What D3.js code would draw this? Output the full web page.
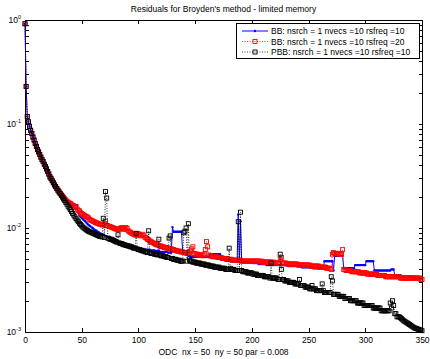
<!DOCTYPE html>
<html>
<head>
<meta charset="utf-8">
<style>
  body { margin: 0; background: #fff; }
  text { font-family: "Liberation Sans", Helvetica, Arial, sans-serif; }
</style>
</head>
<body>
<svg id="chart" width="430" height="359"></svg>

<script src="https://d3js.org/d3.v7.min.js"></script>
<script>
// Residual norms, one value per iteration (0..350)
const bb10 = [
  0.92, 0.23, 0.118, 0.105, 0.095, 0.087, 0.081, 0.075, 0.070, 0.065,
  0.061, 0.057, 0.054, 0.051, 0.048, 0.0455, 0.0435, 0.041, 0.039, 0.037,
  0.035, 0.033, 0.031, 0.0298, 0.0285, 0.0272, 0.026, 0.025, 0.024, 0.0231,
  0.0223, 0.0215, 0.0208, 0.0201, 0.0195, 0.0189, 0.0184, 0.0179, 0.0175, 0.0171,
  0.0168, 0.0165, 0.0167, 0.0168, 0.0168, 0.0167, 0.0166, 0.0140, 0.0132, 0.0128,
  0.0125, 0.0122, 0.0119, 0.0116, 0.0113, 0.0110, 0.0107, 0.0105, 0.0103, 0.0101,
  0.0099, 0.0097, 0.0095, 0.0094, 0.0092, 0.0091, 0.0089, 0.0088, 0.0087, 0.0086,
  0.0085, 0.0084, 0.0083, 0.0082, 0.0081, 0.0080, 0.0079, 0.0078, 0.0077, 0.0076,
  0.0076, 0.0075, 0.0074, 0.0073, 0.0073, 0.0072, 0.0071, 0.0070, 0.0070, 0.0069,
  0.0069, 0.0068, 0.0068, 0.0067, 0.0067, 0.0066, 0.0066, 0.0065, 0.0065, 0.0064,
  0.0064, 0.0064, 0.0063, 0.0063, 0.0063, 0.0062, 0.0062, 0.0062, 0.0062, 0.0062,
  0.0062, 0.0061, 0.0061, 0.0061, 0.0061, 0.0060, 0.0060, 0.0060, 0.0060, 0.0059,
  0.0059, 0.0059, 0.0059, 0.0059, 0.0059, 0.0059, 0.0058, 0.0058, 0.0058, 0.0058,
  0.0102, 0.0092, 0.0092, 0.0092, 0.0092, 0.0092, 0.0092, 0.0092, 0.0092, 0.0058,
  0.0057, 0.0056, 0.0056, 0.0055, 0.0054, 0.0054, 0.0053, 0.0053, 0.0053, 0.0053,
  0.0053, 0.0053, 0.0053, 0.0053, 0.0053, 0.0053, 0.0053, 0.0053, 0.0053, 0.0053,
  0.0053, 0.0053, 0.0053, 0.0056, 0.0056, 0.0056, 0.0056, 0.0056, 0.0056, 0.0056,
  0.0056, 0.0056, 0.0056, 0.0050, 0.0050, 0.0050, 0.0049, 0.0049, 0.0049, 0.0049,
  0.0049, 0.0049, 0.0048, 0.0048, 0.0048, 0.0048, 0.0048, 0.0048, 0.0135, 0.0048,
  0.0116, 0.0048, 0.0047, 0.0047, 0.0047, 0.0047, 0.0047, 0.0047, 0.0047, 0.0047,
  0.0047, 0.0046, 0.0046, 0.0046, 0.0046, 0.0046, 0.0045, 0.0045, 0.0045, 0.0045,
  0.0045, 0.0045, 0.0045, 0.0044, 0.0044, 0.0044, 0.0044, 0.0044, 0.0044, 0.0044,
  0.0044, 0.0044, 0.0044, 0.0044, 0.0044, 0.0044, 0.0044, 0.0044, 0.0044, 0.0044,
  0.0044, 0.0044, 0.0043, 0.0043, 0.0043, 0.0043, 0.0043, 0.0043, 0.0043, 0.0043,
  0.0043, 0.0043, 0.0043, 0.0043, 0.0042, 0.0042, 0.0042, 0.0042, 0.0042, 0.0042,
  0.0042, 0.0042, 0.0042, 0.0042, 0.0041, 0.0041, 0.0041, 0.0041, 0.0041, 0.0041,
  0.0041, 0.0041, 0.0041, 0.0041, 0.0048, 0.0048, 0.0048, 0.0048, 0.0048, 0.0048,
  0.0048, 0.0048, 0.0039, 0.0054, 0.0054, 0.0054, 0.0054, 0.0054, 0.0054, 0.0054,
  0.0054, 0.0041, 0.0041, 0.0041, 0.0041, 0.0041, 0.0041, 0.0041, 0.0041, 0.0041,
  0.0041, 0.0044, 0.0044, 0.0044, 0.0044, 0.0044, 0.0044, 0.0044, 0.0044, 0.0044,
  0.0044, 0.0048, 0.0048, 0.0048, 0.0048, 0.0048, 0.0048, 0.0048, 0.0039, 0.0039,
  0.0039, 0.0039, 0.0039, 0.0039, 0.0039, 0.0039, 0.0039, 0.0039, 0.0039, 0.0039,
  0.0039, 0.0039, 0.0039, 0.0040, 0.0040, 0.0040, 0.0035, 0.0035, 0.0035, 0.0035,
  0.0035, 0.0035, 0.0034, 0.0034, 0.0034, 0.0034, 0.0034, 0.0034, 0.0034, 0.0034,
  0.0034, 0.0034, 0.0034, 0.0034, 0.0033, 0.0033, 0.0033, 0.0033, 0.0033, 0.0033,
  0.0033
];

const bb20 = [
  0.92, 0.23, 0.118, 0.105, 0.095, 0.087, 0.081, 0.075, 0.070, 0.065,
  0.061, 0.057, 0.054, 0.051, 0.048, 0.0455, 0.0435, 0.041, 0.039, 0.037,
  0.035, 0.033, 0.031, 0.0298, 0.0285, 0.0272, 0.026, 0.025, 0.024, 0.0231,
  0.0223, 0.0216, 0.0209, 0.0203, 0.0197, 0.0191, 0.0186, 0.0181, 0.0177, 0.0174,
  0.0172, 0.0168, 0.0165, 0.0161, 0.0158, 0.0160, 0.0152, 0.0148, 0.0146, 0.0140,
  0.0138, 0.0135, 0.0133, 0.0131, 0.0129, 0.0127, 0.0125, 0.0121, 0.0119, 0.0118,
  0.0116, 0.0115, 0.0113, 0.0112, 0.0111, 0.0110, 0.0109, 0.0108, 0.0107, 0.0107,
  0.0110, 0.0116, 0.0106, 0.0105, 0.0104, 0.0103, 0.0102, 0.0101, 0.0100, 0.0099,
  0.0098, 0.0097, 0.0097, 0.0096, 0.0099, 0.0101, 0.0100, 0.0098, 0.0097, 0.0101,
  0.0099, 0.0094, 0.0092, 0.0091, 0.0089, 0.0088, 0.0087, 0.0086, 0.0085, 0.0087,
  0.0088, 0.0086, 0.0084, 0.0085, 0.0087, 0.0084, 0.0081, 0.0080, 0.0078, 0.0077,
  0.0075, 0.0074, 0.0073, 0.0072, 0.0071, 0.0070, 0.0069, 0.0069, 0.0068, 0.0067,
  0.0067, 0.0066, 0.0066, 0.0065, 0.0065, 0.0064, 0.0064, 0.0064, 0.0063, 0.0063,
  0.0062, 0.0062, 0.0061, 0.0061, 0.0060, 0.0060, 0.0060, 0.0059, 0.0059, 0.0059,
  0.0058, 0.0058, 0.0058, 0.0057, 0.0057, 0.0057, 0.0060, 0.0063, 0.0066, 0.0057,
  0.0056, 0.0056, 0.0056, 0.0055, 0.0055, 0.0055, 0.0055, 0.0054, 0.0056, 0.0062,
  0.0074, 0.0066, 0.0055, 0.0054, 0.0054, 0.0053, 0.0053, 0.0053, 0.0053, 0.0053,
  0.0052, 0.0052, 0.0052, 0.0052, 0.0051, 0.0051, 0.0051, 0.0051, 0.0050, 0.0050,
  0.0050, 0.0050, 0.0050, 0.0049, 0.0049, 0.0049, 0.0049, 0.0049, 0.0049, 0.0049,
  0.0049, 0.0048, 0.0048, 0.0048, 0.0048, 0.0048, 0.0048, 0.0048, 0.0048, 0.0048,
  0.0048, 0.0048, 0.0048, 0.0048, 0.0048, 0.0048, 0.0048, 0.0048, 0.0047, 0.0048,
  0.0047, 0.0047, 0.0047, 0.0047, 0.0047, 0.0047, 0.0047, 0.0047, 0.0046, 0.0047,
  0.0046, 0.0046, 0.0046, 0.0046, 0.0046, 0.0050, 0.0052, 0.0046, 0.0046, 0.0046,
  0.0046, 0.0045, 0.0045, 0.0045, 0.0045, 0.0045, 0.0045, 0.0045, 0.0045, 0.0045,
  0.0045, 0.0044, 0.0044, 0.0044, 0.0044, 0.0044, 0.0044, 0.0044, 0.0044, 0.0044,
  0.0044, 0.0044, 0.0043, 0.0043, 0.0043, 0.0043, 0.0043, 0.0043, 0.0043, 0.0043,
  0.0042, 0.0042, 0.0042, 0.0042, 0.0042, 0.0042, 0.0041, 0.0041, 0.0041, 0.0041,
  0.0040, 0.0056, 0.0058, 0.0057, 0.0057, 0.0057, 0.0057, 0.0056, 0.0056, 0.0056,
  0.0062, 0.0040, 0.0040, 0.0039, 0.0039, 0.0039, 0.0039, 0.0039, 0.0038, 0.0038,
  0.0038, 0.0038, 0.0038, 0.0038, 0.0038, 0.0037, 0.0037, 0.0037, 0.0037, 0.0037,
  0.0037, 0.0037, 0.0036, 0.0036, 0.0036, 0.0036, 0.0036, 0.0036, 0.0036, 0.0036,
  0.0036, 0.0035, 0.0035, 0.0035, 0.0035, 0.0035, 0.0035, 0.0035, 0.0034, 0.0034,
  0.0034, 0.0034, 0.0034, 0.0034, 0.0034, 0.0034, 0.0034, 0.0034, 0.0034, 0.0034,
  0.0034, 0.0033, 0.0033, 0.0033, 0.0033, 0.0033, 0.0033, 0.0033, 0.0033, 0.0033,
  0.0033, 0.0033, 0.0033, 0.0033, 0.0033, 0.0033, 0.0033, 0.0033, 0.0033, 0.0032,
  0.0032
];

const pbb10 = [
  0.92, 0.23, 0.118, 0.105, 0.095, 0.087, 0.081, 0.075, 0.070, 0.065,
  0.061, 0.057, 0.054, 0.051, 0.048, 0.0455, 0.0435, 0.041, 0.039, 0.037,
  0.035, 0.033, 0.031, 0.0298, 0.0285, 0.0272, 0.026, 0.025, 0.024, 0.0231,
  0.0222, 0.0214, 0.0206, 0.0198, 0.0190, 0.0183, 0.0176, 0.0169, 0.0162, 0.0156,
  0.0150, 0.0144, 0.0138, 0.0133, 0.0128, 0.0123, 0.0119, 0.0115, 0.0111, 0.0108,
  0.0105, 0.0102, 0.0100, 0.0098, 0.0096, 0.0095, 0.0093, 0.0092, 0.0091, 0.0090,
  0.0089, 0.0088, 0.0087, 0.0086, 0.0085, 0.0084, 0.0083, 0.0083, 0.0082, 0.0124,
  0.0081, 0.0224, 0.0194, 0.0080, 0.0079, 0.0078, 0.0078, 0.0077, 0.0076, 0.0075,
  0.0074, 0.0073, 0.0086, 0.0072, 0.0071, 0.0071, 0.0070, 0.0069, 0.0069, 0.0068,
  0.0068, 0.0067, 0.0067, 0.0066, 0.0066, 0.0065, 0.0064, 0.0064, 0.0089, 0.0063,
  0.0062, 0.0062, 0.0061, 0.0061, 0.0060, 0.0060, 0.0059, 0.0059, 0.0058, 0.0094,
  0.0058, 0.0057, 0.0057, 0.0057, 0.0056, 0.0056, 0.0056, 0.0055, 0.0078, 0.0055,
  0.0054, 0.0054, 0.0054, 0.0053, 0.0053, 0.0052, 0.0052, 0.0080, 0.0084, 0.0051,
  0.0051, 0.0050, 0.0050, 0.0050, 0.0049, 0.0049, 0.0049, 0.0048, 0.0048, 0.0048,
  0.0090, 0.0093, 0.0100, 0.0048, 0.0110, 0.0049, 0.0048, 0.0048, 0.0047, 0.0047,
  0.0047, 0.0046, 0.0046, 0.0046, 0.0046, 0.0045, 0.0045, 0.0045, 0.0045, 0.0044,
  0.0044, 0.0044, 0.0044, 0.0043, 0.0043, 0.0043, 0.0043, 0.0042, 0.0042, 0.0042,
  0.0042, 0.0042, 0.0041, 0.0041, 0.0041, 0.0041, 0.0041, 0.0040, 0.0040, 0.0040,
  0.0064, 0.0041, 0.0040, 0.0040, 0.0040, 0.0039, 0.0039, 0.0039, 0.0115, 0.0039,
  0.0142, 0.0039, 0.0038, 0.0038, 0.0038, 0.0038, 0.0037, 0.0037, 0.0037, 0.0037,
  0.0037, 0.0036, 0.0036, 0.0036, 0.0036, 0.0035, 0.0035, 0.0035, 0.0035, 0.0035,
  0.0035, 0.0034, 0.0034, 0.0034, 0.0034, 0.0034, 0.0033, 0.0046, 0.0033, 0.0033,
  0.0033, 0.0033, 0.0033, 0.0032, 0.0032, 0.0056, 0.0040, 0.0032, 0.0032, 0.0031,
  0.0031, 0.0031, 0.0031, 0.0030, 0.0030, 0.0030, 0.0030, 0.0030, 0.0029, 0.0029,
  0.0029, 0.0029, 0.0032, 0.0028, 0.0028, 0.0028, 0.0028, 0.0027, 0.0027, 0.0027,
  0.0027, 0.0026, 0.0026, 0.0028, 0.0026, 0.0026, 0.0026, 0.0025, 0.0025, 0.0025,
  0.0025, 0.0025, 0.0029, 0.0025, 0.0024, 0.0024, 0.0024, 0.0024, 0.0024, 0.0024,
  0.0034, 0.0031, 0.0023, 0.0023, 0.0023, 0.0023, 0.0023, 0.0022, 0.0022, 0.0022,
  0.0022, 0.0022, 0.0021, 0.0021, 0.0021, 0.0021, 0.0021, 0.0020, 0.0020, 0.0020,
  0.0020, 0.0020, 0.0020, 0.0019, 0.0019, 0.0019, 0.0019, 0.0019, 0.0019, 0.0018,
  0.0018, 0.0018, 0.0018, 0.0018, 0.0018, 0.0018, 0.0018, 0.0017, 0.0017, 0.0017,
  0.0017, 0.0017, 0.0017, 0.0017, 0.0016, 0.0016, 0.0016, 0.0016, 0.0016, 0.0016,
  0.0016, 0.0016, 0.0019, 0.0017, 0.0020, 0.0018, 0.0015, 0.0015, 0.0014, 0.0014,
  0.0014, 0.00137, 0.00134, 0.00131, 0.00128, 0.00126, 0.00124, 0.00122, 0.0012, 0.00118,
  0.00116, 0.00114, 0.00112, 0.0011, 0.00109, 0.00108, 0.00107, 0.00106, 0.00105, 0.00104,
  0.00103
];

const seriesNames = [
  "BB: nsrch = 1 nvecs =10 rsfreq =10",
  "BB: nsrch = 1 nvecs =10 rsfreq =20",
  "PBB: nsrch = 1 nvecs =10 rsfreq =10"
];
const xTicks = [0, 50, 100, 150, 200, 250, 300, 350];
const yMajor = [1e-3, 1e-2, 1e-1, 1];
const yExponents = ["-3", "-2", "-1", "0"];

const svg = d3.select("#chart");
const mL = 25, mR = 422, mT = 20, mB = 332;

const x = d3.scaleLinear().domain([0, 350]).range([mL, mR]);
const y = d3.scaleLog().domain([1e-3, 1]).range([mB, mT]);

// axes box + ticks (inside, matlab style)
const fs = "8.5px";
svg.append("g")
  .attr("transform", `translate(0,${mB})`)
  .call(d3.axisBottom(x).tickValues(xTicks).tickSize(-4).tickPadding(5).tickFormat(d3.format("d")))
  .call(g => g.select(".domain").remove())
  .selectAll("text").style("font-size", fs).style("font-family", "Liberation Sans, Helvetica, Arial");
svg.append("g")
  .attr("transform", `translate(0,${mT})`)
  .call(d3.axisTop(x).tickValues(xTicks).tickSize(-4).tickFormat(""))
  .call(g => g.select(".domain").remove());

const minor = y.ticks();
svg.append("g")
  .attr("transform", `translate(${mL},0)`)
  .call(d3.axisLeft(y).tickValues(minor).tickSize(-3.5).tickFormat(""))
  .call(g => g.select(".domain").remove());
svg.append("g")
  .attr("transform", `translate(${mR},0)`)
  .call(d3.axisRight(y).tickValues(minor).tickSize(-3.5).tickFormat(""))
  .call(g => g.select(".domain").remove());

svg.selectAll(".tick line").attr("stroke", "#000").attr("shape-rendering", "crispEdges");

svg.append("rect")
  .attr("x", mL).attr("y", mT)
  .attr("width", mR - mL).attr("height", mB - mT)
  .attr("fill", "none").attr("stroke", "#000").attr("shape-rendering", "crispEdges");

// y labels 10^k
const ylab = svg.append("g").selectAll("text")
  .data(yMajor)
  .join("text")
  .attr("x", 21)
  .attr("y", d => y(d) + 3)
  .attr("text-anchor", "end")
  .style("font-size", fs);
ylab.append("tspan").text("10");
ylab.append("tspan")
  .attr("dy", -4)
  .style("font-size", "5.5px")
  .text((d, i) => yExponents[i]);

// data
const iters = d3.range(bb10.length);
const line = d3.line().x((d, i) => x(iters[i])).y(d => y(d));

// BB rsfreq 10: blue solid with dots
svg.append("path").datum(bb10)
  .attr("d", line).attr("fill", "none").attr("stroke", "#0000ff").attr("stroke-width", 1);
svg.append("g").selectAll("circle").data(bb10).join("circle")
  .attr("cx", (d, i) => x(iters[i])).attr("cy", d => y(d))
  .attr("r", 1.2).attr("fill", "#0000ff");

// BB rsfreq 20: red dotted with squares
svg.append("path").datum(bb20)
  .attr("d", line).attr("fill", "none").attr("stroke", "#ff0000")
  .attr("stroke-width", 0.8).attr("stroke-dasharray", "1,1.5");
svg.append("g").selectAll("rect").data(bb20).join("rect")
  .attr("x", (d, i) => x(iters[i]) - 2).attr("y", d => y(d) - 2)
  .attr("width", 4).attr("height", 4)
  .attr("fill", "none").attr("stroke", "#ff0000").attr("stroke-width", 0.9);

// PBB: black dotted with squares
svg.append("path").datum(pbb10)
  .attr("d", line).attr("fill", "none").attr("stroke", "#000")
  .attr("stroke-width", 0.8).attr("stroke-dasharray", "1,1.5");
svg.append("g").selectAll("rect").data(pbb10).join("rect")
  .attr("x", (d, i) => x(iters[i]) - 2).attr("y", d => y(d) - 2)
  .attr("width", 4).attr("height", 4)
  .attr("fill", "none").attr("stroke", "#000").attr("stroke-width", 0.9);

// title and x label
svg.append("text")
  .attr("x", (mL + mR) / 2).attr("y", 12)
  .attr("text-anchor", "middle").style("font-size", fs)
  .text("Residuals for Broyden's method - limited memory");
svg.append("text")
  .attr("x", (mL + mR) / 2).attr("y", 355)
  .attr("text-anchor", "middle").style("font-size", fs)
  .style("white-space", "pre")
  .text("ODC  nx = 50  ny = 50 par = 0.008");

// legend
const lg = svg.append("g");
lg.append("rect")
  .attr("x", 236.5).attr("y", 23.5).attr("width", 183).attr("height", 35)
  .attr("fill", "#fff").attr("stroke", "#000");
const rows = [31, 41.5, 52];
const colors = ["#0000ff", "#ff0000", "#000"];
seriesNames.forEach((name, i) => {
  const ly = rows[i];
  lg.append("line")
    .attr("x1", 242).attr("x2", 268).attr("y1", ly).attr("y2", ly)
    .attr("stroke", colors[i]).attr("stroke-width", i === 0 ? 1 : 0.8)
    .attr("stroke-dasharray", i === 0 ? null : "1,1.5");
  if (i === 0) {
    lg.append("circle").attr("cx", 255).attr("cy", ly).attr("r", 1.2).attr("fill", colors[i]);
  } else {
    lg.append("rect").attr("x", 253).attr("y", ly - 2).attr("width", 4).attr("height", 4)
      .attr("fill", "none").attr("stroke", colors[i]).attr("stroke-width", 0.9);
  }
  lg.append("text")
    .attr("x", 271).attr("y", ly + 3)
    .style("font-size", fs)
    .text(name);
});
</script>
</body>
</html>
